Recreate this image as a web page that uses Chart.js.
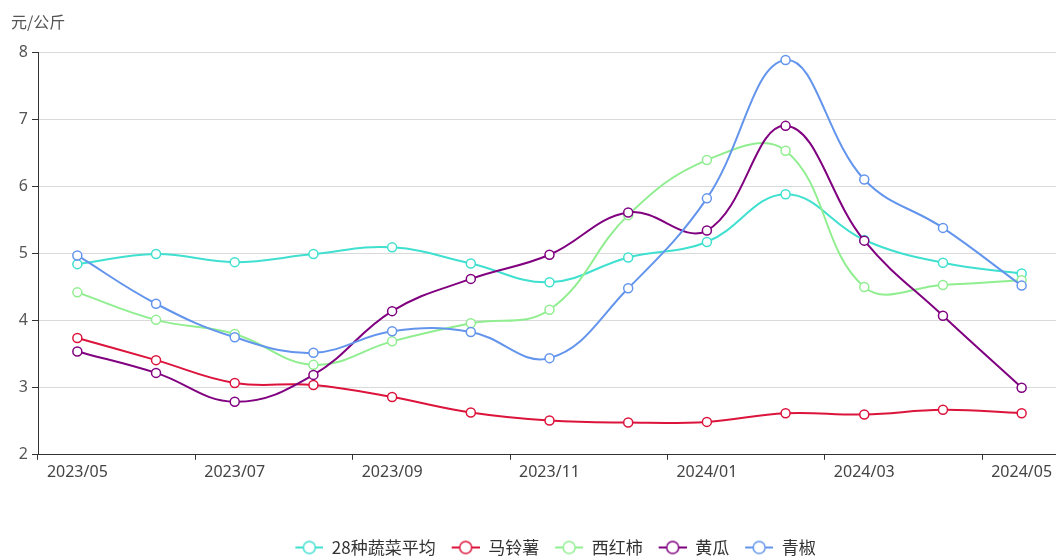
<!DOCTYPE html>
<html><head><meta charset="utf-8">
<script src="https://cdn.jsdelivr.net/npm/chart.js@4.4.0/dist/chart.umd.min.js"></script>
<style>
html,body{margin:0;padding:0;overflow:hidden;background:#fff;width:1056px;height:556px;}
#wrap{position:absolute;left:0;top:0;width:1104px;height:556px;}
</style></head><body>
<div id="wrap"><canvas id="c" width="1104" height="556"></canvas></div>
<script>
const categories = ['2023/05','2023/06','2023/07','2023/08','2023/09','2023/10','2023/11','2023/12','2024/01','2024/02','2024/03','2024/04','2024/05'];
const seriesNames = ['28种蔬菜平均','马铃薯','西红柿','黄瓜','青椒'];
const avg28 = [4.84,4.99,4.87,4.99,5.09,4.85,4.57,4.94,5.17,5.88,5.20,4.86,4.70];
const potato = [3.74,3.41,3.07,3.04,2.86,2.63,2.51,2.48,2.49,2.62,2.60,2.67,2.62];
const tomato = [4.42,4.01,3.80,3.34,3.69,3.96,4.16,5.57,6.39,6.53,4.50,4.53,4.60];
const cucumber = [3.54,3.22,2.79,3.19,4.14,4.62,4.98,5.61,5.34,6.90,5.19,4.07,3.00];
const pepper = [4.97,4.25,3.75,3.52,3.84,3.83,3.44,4.48,5.82,7.88,6.10,5.38,4.52];
const colors = ['#40E0D0','#DC143C','#90EE90','#800080','#6495ED'];
const yTicks = {min:2, max:8, step:1};
const unitLabel = '元/公斤';

const FONT = '"Noto Sans", "Noto Sans CJK SC", sans-serif';
const CJK = '"Noto Sans CJK SC", "Noto Sans", sans-serif';

const ICON_LINE = 28, ICON_MARGIN = 12, ICON_W = ICON_LINE + ICON_MARGIN;
function legendIcon(color){
  const cv = document.createElement('canvas');
  cv.width = ICON_W; cv.height = 16;
  const g = cv.getContext('2d');
  const x0 = ICON_MARGIN, x1 = ICON_W, cx = (x0 + x1) / 2;
  g.strokeStyle = color; g.lineWidth = 2;
  g.beginPath(); g.moveTo(x0,8); g.lineTo(x1,8); g.stroke();
  g.beginPath(); g.arc(cx,8,6,0,Math.PI*2);
  g.fillStyle = '#fff'; g.fill();
  g.lineWidth = 1.5; g.stroke();
  return cv;
}
const icons = colors.map(legendIcon);

const allData = [avg28, potato, tomato, cucumber, pepper];
const datasets = allData.map((d,i)=>({
  label: seriesNames[i],
  data: d,
  borderColor: colors[i],
  backgroundColor: colors[i],
  borderWidth: 2,
  tension: 0.4,
  pointRadius: 4.5,
  pointBorderWidth: 1.5,
  pointBackgroundColor: '#fff',
  pointBorderColor: colors[i],
  pointHoverRadius: 4.5,
  order: -i,
  fill: false
}));

const unitPlugin = {
  id:'unit',
  afterDraw(chart){
    const ctx = chart.ctx;
    ctx.save();
    ctx.font = '16px ' + CJK;
    ctx.fillStyle = '#555';
    ctx.textBaseline = 'middle';
    ctx.textAlign = 'left';
    ctx.fillText(unitLabel, 11, 22);
    ctx.restore();
  }
};

new Chart(document.getElementById('c'), {
  type:'line',
  data:{labels: categories, datasets},
  plugins:[unitPlugin],
  options:{
    responsive:false,
    animation:false,
    devicePixelRatio:1,
    layout:{padding:{left:0,right:43,top:52,bottom:-10}},
    plugins:{
      tooltip:{enabled:false},
      title:{display:false},
      legend:{
        position:'bottom',
        fullSize:false,
        labels:{
          usePointStyle:true,
          pointStyleWidth:ICON_W,
          boxHeight:16,
          padding:4,
          color:'#333',
          font:{size:17, family:CJK},
          sort:(a,b)=>a.datasetIndex-b.datasetIndex,
          generateLabels(chart){
            const items = Chart.defaults.plugins.legend.labels.generateLabels(chart);
            items.forEach(it=>{ it.pointStyle = icons[it.datasetIndex]; });
            return items;
          }
        }
      }
    },
    scales:{
      x:{
        offset:true,
        grid:{offset:true, drawOnChartArea:false, tickLength:5,
          tickColor:(ctx)=> (ctx.index%2===0 ? '#333' : 'rgba(0,0,0,0)')},
        border:{color:'#333', width:1},
        ticks:{autoSkip:false, maxRotation:0, minRotation:0, padding:3, color:'#444',
          font:{size:16, family:FONT},
          callback:(v,i)=> (i%2===0 ? categories[i] : '')},
        afterFit(scale){ scale.height += 50; }
      },
      y:{
        min:yTicks.min, max:yTicks.max,
        ticks:{stepSize:yTicks.step, color:'#555', padding:4, font:{size:16, family:FONT}},
        grid:{color:'#d9d9d9', tickColor:'#333', tickLength:6, lineWidth:1},
        border:{color:'#333', width:1},
        afterFit(scale){ scale.width = 38; }
      }
    }
  }
});
</script>
</body></html>
